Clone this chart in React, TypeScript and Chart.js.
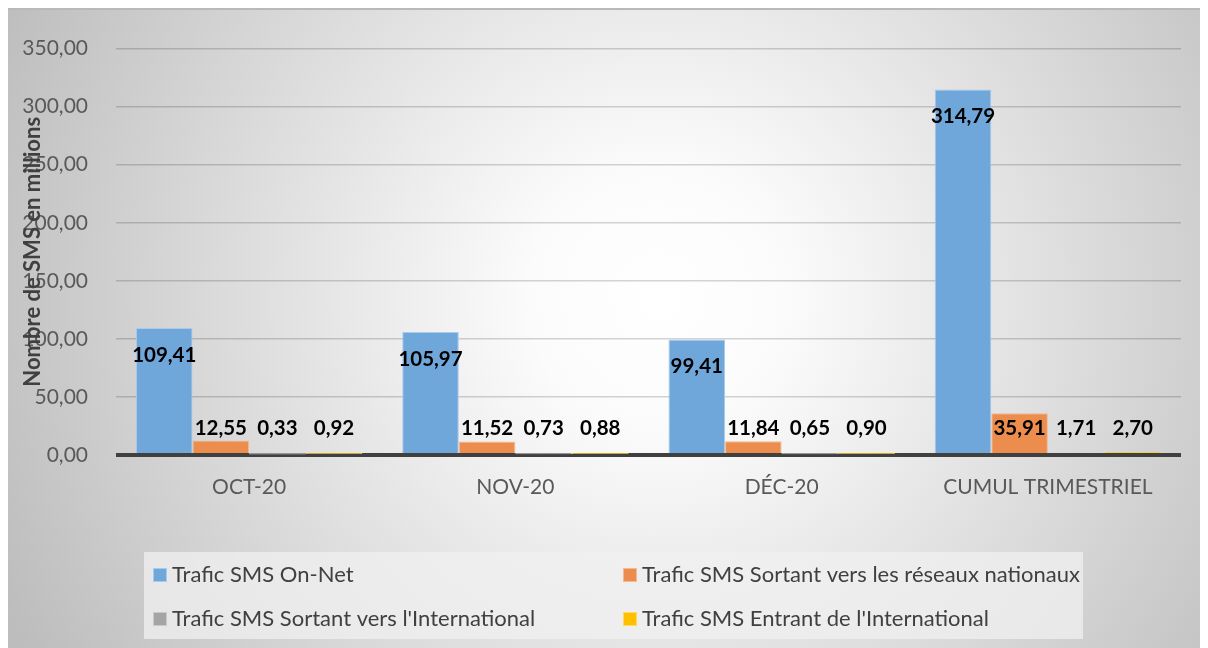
import React, { useEffect, useRef } from "react";
import { Chart, registerables } from "chart.js";

Chart.register(...registerables);

const categories = ["OCT-20", "NOV-20", "DÉC-20", "CUMUL TRIMESTRIEL"];
const onNet = [109.41, 105.97, 99.41, 314.79];
const sortantNational = [12.55, 11.52, 11.84, 35.91];
const sortantInternational = [0.33, 0.73, 0.65, 1.71];
const entrantInternational = [0.92, 0.88, 0.9, 2.7];
const seriesNames = [
  "Trafic SMS On-Net",
  "Trafic SMS Sortant vers les réseaux nationaux",
  "Trafic SMS Sortant vers l'International",
  "Trafic SMS Entrant de l'International",
];
const seriesColors = ["#70A7DB", "#ED8D4D", "#A5A5A5", "#FFC000"];
const seriesBorders = ["#A9CBEB", "#F5B98F", "#C9C9C9", "#FFD966"];
const yMax = 350;
const yStep = 50;
const yTitle = "Nombre de SMS en millions";

const FONT = "Lato, 'Open Sans', sans-serif";
const fmt = (v: number) => v.toFixed(2).replace(".", ",");

const bgPlugin = {
  id: "bgPlugin",
  beforeDraw(chart: any) {
    const { ctx, width, height } = chart;
    ctx.save();
    const g = ctx.createRadialGradient(650, 290, 0, 650, 290, 720);
    g.addColorStop(0, "#ffffff");
    g.addColorStop(0.18, "#fbfbfb");
    g.addColorStop(1, "#bdbdbd");
    ctx.fillStyle = g;
    ctx.fillRect(0, 0, width, height);
    ctx.fillStyle = "#b9b9b9";
    ctx.fillRect(0, 0, width, 2);
    ctx.restore();
  },
};

const labelPlugin = {
  id: "labelPlugin",
  afterDatasetsDraw(chart: any) {
    const { ctx } = chart;
    const base = chart.scales.y.getPixelForValue(0);
    ctx.save();
    ctx.font = `bold 20.5px ${FONT}`;
    ctx.fillStyle = "#000000";
    ctx.textAlign = "center";
    ctx.textBaseline = "middle";
    chart.data.datasets.forEach((ds: any, i: number) => {
      const meta = chart.getDatasetMeta(i);
      meta.data.forEach((bar: any, j: number) => {
        const y = Math.min(bar.y + 27, base - 27);
        ctx.fillText(fmt(ds.data[j]), bar.x, y);
      });
    });
    ctx.restore();
  },
  afterDraw(chart: any) {
    const { ctx, chartArea } = chart;
    ctx.save();
    ctx.translate(25, (chartArea.top + chartArea.bottom) / 2);
    ctx.rotate(-Math.PI / 2);
    ctx.font = `bold 22px ${FONT}`;
    ctx.fillStyle = "#404040";
    ctx.textAlign = "center";
    ctx.textBaseline = "middle";
    ctx.fillText(yTitle, 0, 0);
    ctx.restore();

    ctx.save();
    ctx.fillStyle = "rgba(240,240,240,0.75)";
    ctx.fillRect(136, 544, 939, 87);
    const cols = [145, 615];
    const rows = [567, 611];
    ctx.font = `22px ${FONT}`;
    ctx.textBaseline = "middle";
    ctx.textAlign = "left";
    chart.data.datasets.forEach((ds: any, i: number) => {
      const x = cols[i % 2];
      const y = rows[Math.floor(i / 2)];
      ctx.fillStyle = seriesBorders[i];
      ctx.fillRect(x, y - 7, 14, 14);
      ctx.fillStyle = seriesColors[i];
      ctx.fillRect(x + 1, y - 6, 12, 12);
      ctx.fillStyle = "#404040";
      ctx.fillText(ds.label, x + 19, y);
    });
    ctx.restore();
  },
};

export default function App() {
  const ref = useRef<HTMLCanvasElement | null>(null);
  useEffect(() => {
    if (!ref.current) return;
    const seriesData = [onNet, sortantNational, sortantInternational, entrantInternational];
    const chart = new Chart(ref.current, {
      type: "bar",
      data: {
        labels: categories,
        datasets: seriesData.map((d, i) => ({
          label: seriesNames[i],
          data: d,
          backgroundColor: seriesColors[i],
          borderColor: seriesBorders[i],
          borderWidth: 1,
          categoryPercentage: 0.85,
          barPercentage: 1,
        })),
      },
      options: {
        animation: false,
        responsive: false,
        maintainAspectRatio: false,
        layout: { padding: { top: 40, right: 27, left: 0, bottom: 0 } },
        plugins: {
          legend: { display: false },
          tooltip: { enabled: false },
          title: { display: false },
        },
        scales: {
          x: {
            grid: { display: false, drawTicks: false },
            border: { display: false },
            ticks: {
              padding: 20,
              color: "#595959",
              font: { family: FONT, size: 21 },
            },
            afterFit: (s: any) => {
              s.height = 193;
            },
          },
          y: {
            min: 0,
            max: yMax,
            grid: {
              drawTicks: false,
              color: (c: any) => (c.tick && c.tick.value === 0 ? "#404040" : "rgba(0,0,0,0.17)"),
              lineWidth: (c: any) => (c.tick && c.tick.value === 0 ? 4 : 1.5),
            },
            border: { display: false },
            ticks: {
              stepSize: yStep,
              padding: 28,
              color: "#595959",
              font: { family: FONT, size: 21 },
              callback: (v: any) => fmt(Number(v)),
            },
            afterFit: (s: any) => {
              s.width = 108;
            },
          },
        },
      },
      plugins: [bgPlugin, labelPlugin],
    });
    return () => chart.destroy();
  }, []);
  return (
    <div style={{ width: 1200, height: 640 }}>
      <canvas ref={ref} width={1200} height={640} style={{ display: "block" }} />
    </div>
  );
}
